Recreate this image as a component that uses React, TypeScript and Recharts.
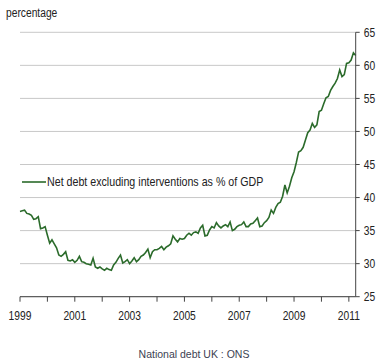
import { CartesianGrid, Legend, Line, LineChart, XAxis, YAxis } from "recharts";

// Net debt excluding interventions, % of GDP, monthly from Jan 1999
const startYear = 1999;
const netDebt = [
  37.9, 38.0, 38.1, 37.6, 37.5, 37.3, 36.7, 36.8, 37.1, 35.3, 35.4, 35.6,
  34.3, 33.1, 33.6, 33.0, 32.4, 31.3, 31.1, 31.4, 31.8, 30.5, 30.4, 30.6,
  30.2, 30.5, 31.1, 30.3, 30.2, 30.0, 29.9, 29.8, 30.8, 29.5, 29.3, 29.5,
  29.2, 29.0, 29.3, 29.1, 29.0, 29.8, 30.2, 30.8, 31.3, 30.1, 30.3, 30.6,
  30.0, 30.4, 30.9, 30.3, 30.6, 31.1, 31.3, 31.7, 32.2, 30.9, 31.8, 32.1,
  32.1, 32.3, 32.6, 32.1, 32.5, 32.7, 33.0, 34.2, 33.7, 33.3, 33.8, 33.7,
  33.8, 34.3, 34.6, 34.3, 34.7, 34.8, 34.6, 35.4, 35.8, 34.2, 34.3, 35.1,
  35.6, 35.4, 36.2, 35.7, 35.4, 35.7, 35.9, 35.6, 36.3, 35.0, 35.2, 35.6,
  35.8, 35.9, 36.3, 35.6, 35.6, 36.0, 36.1, 36.5, 36.9, 35.6, 35.7, 36.2,
  36.5, 37.0, 38.1, 37.6, 38.5, 39.1, 39.3, 40.2, 41.9, 40.7, 41.7, 43.0,
  43.9, 45.3, 46.9, 47.1, 47.6, 48.7, 49.8, 50.2, 51.2, 50.6, 51.0, 53.0,
  53.2, 54.2, 55.1, 55.3, 56.2, 56.8, 57.3, 58.0, 59.3, 58.3, 58.6, 60.3,
  60.4, 60.8, 61.9, 61.5,
];
const yearTicks = [0, 12, 24, 36, 48, 60, 72, 84, 96, 108, 120, 132, 144];
const valueTicks = [25, 30, 35, 40, 45, 50, 55, 60, 65];
const seriesName = "Net debt excluding interventions as % of GDP";

const data = netDebt.map((v, i) => ({ m: i, v }));

const LINE = "#2b6b2b";
const AXIS = "#444";
const TEXT = "#222";
const FONT = '"Liberation Sans", Arial, sans-serif';
// the source chart's lettering is horizontally squeezed
const SQUEEZE = 0.82;

function XTick({ x, y, payload }: any) {
  const v = payload.value as number;
  if (v % 24 !== 0) return null;
  return (
    <text
      transform={`translate(${x},${y}) scale(${SQUEEZE},1)`}
      textAnchor="middle"
      dy="0.71em"
      fill={TEXT}
      fontSize={12.5}
      fontFamily={FONT}
    >
      {startYear + v / 12}
    </text>
  );
}

function YTick({ x, y, payload }: any) {
  return (
    <text
      transform={`translate(${x},${y}) scale(${SQUEEZE},1)`}
      textAnchor="start"
      dy="0.355em"
      fill={TEXT}
      fontSize={12.5}
      fontFamily={FONT}
    >
      {payload.value}
    </text>
  );
}

function renderLegend() {
  return (
    <div style={{ display: "flex", alignItems: "center", whiteSpace: "nowrap" }}>
      <svg width={26} height={14} style={{ display: "block" }}>
        <line x1={1} y1={7} x2={25} y2={7} stroke={LINE} strokeWidth={1.6} />
      </svg>
      <span
        style={{
          display: "inline-block",
          fontFamily: FONT,
          fontSize: 13,
          color: TEXT,
          lineHeight: "14px",
          transform: `scaleX(${SQUEEZE})`,
          transformOrigin: "left center",
        }}
      >
        {seriesName}
      </span>
    </div>
  );
}

export default function App() {
  return (
    <div style={{ position: "absolute", left: 0, top: 0, width: 382, height: 364, background: "#fff" }}>
      <LineChart
        width={382}
        height={364}
        data={data}
        margin={{ top: 32.3, right: 0, left: 20, bottom: 37.3 }}
      >
        <CartesianGrid horizontal vertical={false} stroke="#c8c8c8" strokeWidth={1} />
        <XAxis
          type="number"
          dataKey="m"
          domain={[0, 147]}
          ticks={yearTicks}
          height={30}
          tickSize={5}
          tickMargin={9}
          stroke={AXIS}
          tick={XTick}
          interval={0}
        />
        <YAxis
          orientation="right"
          domain={[25, 65]}
          ticks={valueTicks}
          width={26.3}
          tickSize={4}
          tickMargin={4}
          stroke={AXIS}
          tick={YTick}
          interval={0}
        />
        <Legend
          layout="vertical"
          align="center"
          verticalAlign="middle"
          wrapperStyle={{ top: 175, left: 21, width: "auto" }}
          content={renderLegend}
        />
        <Line
          type="linear"
          dataKey="v"
          name={seriesName}
          stroke={LINE}
          strokeWidth={1.6}
          dot={false}
          isAnimationActive={false}
        />
      </LineChart>
      <div
        style={{
          position: "absolute",
          left: 6,
          top: 7,
          fontFamily: FONT,
          fontSize: 12.5,
          lineHeight: "12px",
          color: TEXT,
          transform: `scaleX(${SQUEEZE})`,
          transformOrigin: "left center",
          whiteSpace: "nowrap",
        }}
      >
        percentage
      </div>
      <div
        style={{
          position: "absolute",
          left: 0,
          width: 382,
          top: 349,
          textAlign: "center",
          fontFamily: FONT,
          fontSize: 10.5,
          lineHeight: "11px",
          color: "#3c3f52",
          paddingLeft: 6,
          boxSizing: "border-box",
          whiteSpace: "nowrap",
        }}
      >
        National debt UK : ONS
      </div>
    </div>
  );
}
